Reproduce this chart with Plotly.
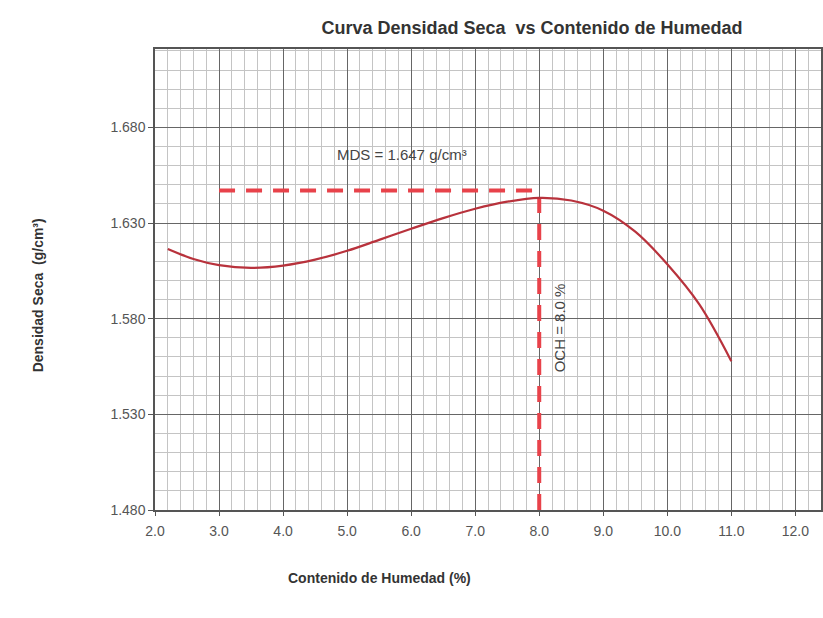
import plotly.graph_objects as go

# Curve
humedad = [2.2, 2.6, 3.0, 3.5, 4.0, 4.5, 5.0, 5.5, 6.0, 6.5, 7.0, 7.5, 8.0, 8.5, 9.0, 9.5, 10.0, 10.5, 11.0]
densidad = [1.6164, 1.6112, 1.6080, 1.6066, 1.6078, 1.6109, 1.6155, 1.6212, 1.6270, 1.6326, 1.6375, 1.6412, 1.6432,
            1.6418, 1.6365, 1.6255, 1.6085, 1.5875, 1.5578]

mds = 1.647
och = 8.0
mds_x = [3.0, 8.0]
och_y = [1.48, 1.647]

x_ticks = [2.0, 3.0, 4.0, 5.0, 6.0, 7.0, 8.0, 9.0, 10.0, 11.0, 12.0]
y_ticks = [1.480, 1.530, 1.580, 1.630, 1.680]

red = "#e8424a"
curve_col = "#b8323c"

fig = go.Figure()
fig.add_trace(go.Scatter(x=mds_x, y=[mds, mds], mode="lines",
                         line=dict(color=red, width=4, dash="16px,11px"), hoverinfo="skip"))
fig.add_trace(go.Scatter(x=[och, och], y=och_y, mode="lines",
                         line=dict(color=red, width=4, dash="16px,11px"), hoverinfo="skip"))
fig.add_trace(go.Scatter(x=humedad, y=densidad, mode="lines",
                         line=dict(color=curve_col, width=2.2, shape="spline", smoothing=1.0)))

font = "Liberation Sans, Arial, sans-serif"
fig.update_layout(
    width=823, height=618,
    margin=dict(l=155, r=0, t=49, b=108),
    paper_bgcolor="white", plot_bgcolor="white",
    showlegend=False,
    font=dict(family=font, color="#444"),
    title=dict(text="<b>Curva Densidad Seca  vs Contenido de Humedad</b>",
               x=532/823, xanchor="center", y=1-28/618, yanchor="middle",
               font=dict(size=18, color="#333", family=font)),
)
fig.update_xaxes(
    range=[2.0, 12.4], tickvals=x_ticks, ticktext=[f"{v:.1f}" for v in x_ticks],
    showgrid=True, gridcolor="#666", gridwidth=1,
    minor=dict(dtick=0.2, tick0=2.0, showgrid=True, gridcolor="#c4c4c4", gridwidth=1),
    showline=True, linecolor="#555", linewidth=1.5, mirror=True,
    ticks="outside", ticklen=4, tickcolor="#555", ticklabelstandoff=3,
    tickfont=dict(size=14, color="#555"), zeroline=False,
)
fig.update_yaxes(
    range=[1.48, 1.721], tickvals=y_ticks, ticktext=[f"{v:.3f}" for v in y_ticks],
    showgrid=True, gridcolor="#666", gridwidth=1,
    minor=dict(dtick=0.01, tick0=1.48, showgrid=True, gridcolor="#c4c4c4", gridwidth=1),
    showline=True, linecolor="#555", linewidth=1.5, mirror=True,
    ticks="outside", ticklen=5, tickcolor="#555",
    tickfont=dict(size=14, color="#555"), zeroline=False,
)
# axis titles placed where they sit in the reference
fig.add_annotation(xref="paper", yref="paper", x=(380-155)/668, y=(618-108-578)/(618-49-108),
                   text="<b>Contenido de Humedad (%)</b>", showarrow=False,
                   font=dict(size=14, color="#333", family=font), yanchor="middle")
fig.add_annotation(xref="paper", yref="paper", x=(38-155)/668, y=(510-295)/(618-49-108),
                   text="<b>Densidad Seca  (g/cm³)</b>", showarrow=False, textangle=-90,
                   font=dict(size=14, color="#333", family=font), xanchor="center", yanchor="middle")
fig.add_annotation(x=5.85, y=1.6660, text="MDS = 1.647 g/cm³", showarrow=False,
                   font=dict(size=15, color="#444", family=font))
fig.add_annotation(x=8.31, y=1.5750, text="OCH = 8.0 %", showarrow=False, textangle=-90,
                   font=dict(size=15, color="#444", family=font))

fig.write_html("out.html")
